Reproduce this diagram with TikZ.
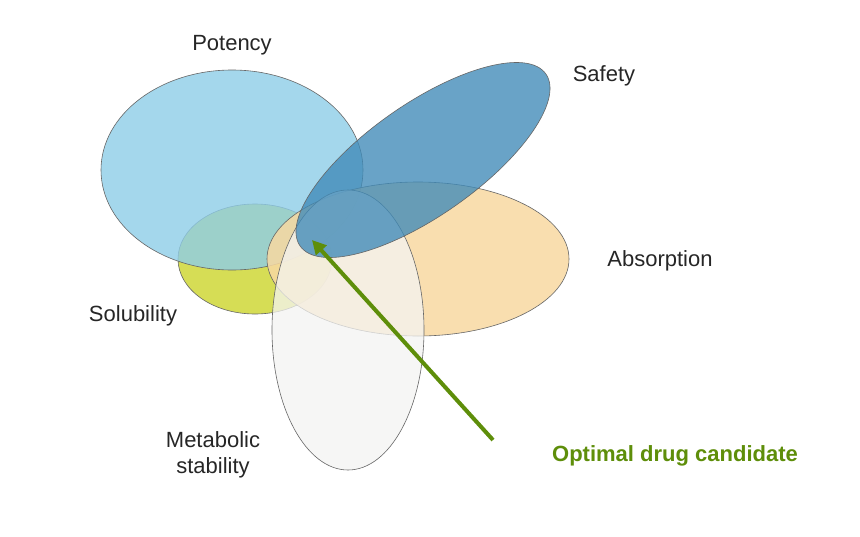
\documentclass[tikz,border=0pt]{standalone}
\usepackage{fontspec}
\setmainfont{Liberation Sans}
\usetikzlibrary{arrows.meta}
\definecolor{pot}{HTML}{8ECDE8}
\definecolor{saf}{HTML}{3F8AB8}
\definecolor{abs}{HTML}{F8D9A2}
\definecolor{sol}{HTML}{D6DD55}
\definecolor{met}{HTML}{F4F4F2}
\definecolor{grn}{HTML}{5E8E0A}
\tikzset{oval/.style={draw=gray!80!black,line width=0.6pt,fill opacity=0.85},
lbl/.style={font=\fontsize{22}{26}\selectfont,text=black!85}}
\begin{document}
\begin{tikzpicture}[x=1pt,y=-1pt]
\useasboundingbox (0,0) rectangle (860,536);
\fill[white] (0,0) rectangle (860,536);
\draw[oval,fill=sol,fill opacity=1] (255,259) ellipse[x radius=77,y radius=55];
\coordinate (sol) at (255,259);
\draw[oval,fill=pot,fill opacity=0.8] (232,170) ellipse[x radius=131,y radius=100];
\coordinate (pot) at (232,170);
\draw[oval,fill=abs] (418,259) ellipse[x radius=151,y radius=77];
\coordinate (abs) at (418,259);
\draw[oval,fill=met,fill opacity=0.75] (348,330) ellipse[x radius=76,y radius=140];
\coordinate (met) at (348,330);
\draw[oval,fill=saf,fill opacity=0.78] (423,160) ellipse[x radius=150,y radius=56,rotate=35];
\coordinate (saf) at (423,160);
\node[lbl] (lp) at (232,45) {Potency};
\node[lbl] (ls) at (604,76) {Safety};
\node[lbl] (la) at (660,261) {Absorption};
\node[lbl] (lso) at (133,316) {Solubility};
\node[lbl,align=center] (lm) at (213,455) {Metabolic\\stability};
\node[font=\fontsize{22}{26}\selectfont\bfseries,text=grn] (opt) at (675,456) {Optimal drug candidate};
\coordinate (tail) at (493,440);
\coordinate (tip) at (312,240);
\draw[grn,line width=4pt,-{Triangle[length=14pt,width=14pt]}] (tail) -- (tip);
\end{tikzpicture}
\end{document}
